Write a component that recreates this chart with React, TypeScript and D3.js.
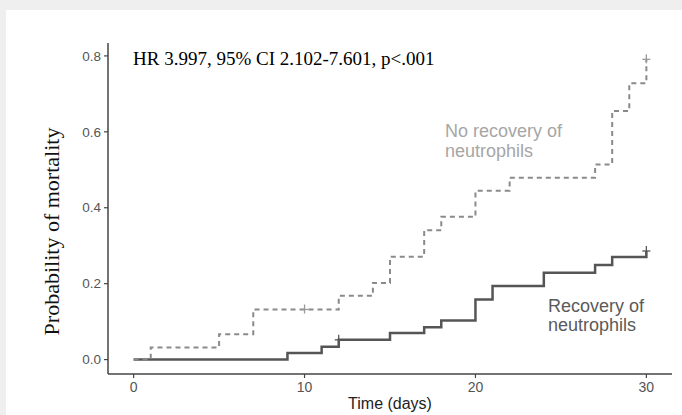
import * as React from 'react';
import * as d3 from 'd3';

// cumulative mortality, step after each event
const noRecDays = [0, 1, 5, 7, 12, 14, 15, 17, 18, 20, 22, 27, 28, 29, 30];
const noRecProb = [0, 0.032, 0.067, 0.132, 0.168, 0.202, 0.271, 0.341, 0.376, 0.445, 0.479, 0.514, 0.655, 0.728, 0.791];
const noRecCensorDays = [10, 30];
const noRecCensorProb = [0.132, 0.791];

const recDays = [0, 9, 11, 12, 15, 17, 18, 20, 21, 24, 27, 28, 30];
const recProb = [0, 0.017, 0.034, 0.052, 0.07, 0.085, 0.103, 0.158, 0.194, 0.229, 0.249, 0.27, 0.286];
const recCensorDays = [12, 30];
const recCensorProb = [0.052, 0.286];

const xTicks = [0, 10, 20, 30];
const yTicks = [0, 0.2, 0.4, 0.6, 0.8];

const annotation = 'HR 3.997, 95% CI 2.102-7.601, p<.001';
const xTitle = 'Time (days)';
const yTitle = 'Probability of mortality';
const noRecLabel = ['No recovery of', 'neutrophils'];
const recLabel = ['Recovery of', 'neutrophils'];

const W = 682, H = 415;

export default function App() {
  const x = d3.scaleLinear().domain([-1.5, 31.5]).range([108, 672]);
  const y = d3.scaleLinear().domain([-0.038, 0.834]).range([374, 43]);

  const line = d3.line<[number, number]>()
    .x(d => x(d[0]))
    .y(d => y(d[1]))
    .curve(d3.curveStepAfter);

  const noRec = noRecDays.map((d, i) => [d, noRecProb[i]] as [number, number]);
  const rec = recDays.map((d, i) => [d, recProb[i]] as [number, number]);

  const sans = '"Liberation Sans", Arial, sans-serif';
  const serif = '"Liberation Serif", "Times New Roman", serif';

  const cross = (cx: number, cy: number, color: string, k: string) => (
    <g key={k} stroke={color} strokeWidth={1.3}>
      <line x1={cx - 4} x2={cx + 4} y1={cy} y2={cy} />
      <line x1={cx} x2={cx} y1={cy - 5} y2={cy + 4} />
    </g>
  );

  return (
    <svg width={W} height={H} style={{ position: 'absolute', left: 0, top: 0 }}>
      <rect width={W} height={H} fill="#efefef" />
      <rect x={6} y={10} width={W - 6} height={H - 10} fill="#fff" />

      {/* axes */}
      <line x1={108} x2={108} y1={43} y2={374} stroke="#444" strokeWidth={1.5} />
      <line x1={108} x2={672} y1={374} y2={374} stroke="#444" strokeWidth={1.5} />
      {yTicks.map(t => (
        <g key={'y' + t}>
          <line x1={104} x2={108} y1={y(t)} y2={y(t)} stroke="#444" strokeWidth={1.2} />
          <text x={101} y={y(t)} dy="0.35em" textAnchor="end" fontFamily={sans} fontSize={13.5} fill="#555">
            {d3.format('.1f')(t)}
          </text>
        </g>
      ))}
      {xTicks.map(t => (
        <g key={'x' + t}>
          <line x1={x(t)} x2={x(t)} y1={374} y2={378} stroke="#444" strokeWidth={1.2} />
          <text x={x(t)} y={392} textAnchor="middle" fontFamily={sans} fontSize={14} fill="#555">
            {t}
          </text>
        </g>
      ))}
      <text x={390} y={409} textAnchor="middle" fontFamily={sans} fontSize={16} fill="#222">{xTitle}</text>
      <text transform="translate(59,231.5) rotate(-90)" textAnchor="middle" fontFamily={serif} fontSize={22} fill="#111">
        {yTitle}
      </text>

      {/* curves */}
      <path d={line(rec) || ''} fill="none" stroke="#555" strokeWidth={2.5} />
      <path d={line(noRec) || ''} fill="none" stroke="#8a8a8a" strokeWidth={2} strokeDasharray="5,4" />
      {recCensorDays.map((d, i) => cross(x(d), y(recCensorProb[i]), '#555', 'rc' + i))}
      {noRecCensorDays.map((d, i) => cross(x(d), y(noRecCensorProb[i]), '#999', 'nc' + i))}

      {/* labels */}
      <text x={133} y={65} fontFamily={serif} fontSize={19} fill="#000">{annotation}</text>
      {noRecLabel.map((s, i) => (
        <text key={'nl' + i} x={445} y={137 + i * 20} fontFamily={sans} fontSize={18} fill="#a6a6a6">{s}</text>
      ))}
      {recLabel.map((s, i) => (
        <text key={'rl' + i} x={548} y={312 + i * 19} fontFamily={sans} fontSize={18} fill="#5a5a5a">{s}</text>
      ))}
    </svg>
  );
}
